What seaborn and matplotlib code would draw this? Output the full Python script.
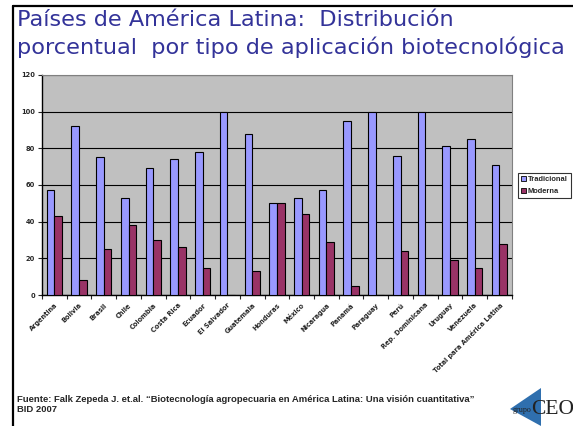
import numpy as np
import pandas as pd
import seaborn as sns
import matplotlib.pyplot as plt
from matplotlib.patches import Polygon
from matplotlib.lines import Line2D

paises = ['Argentina', 'Bolivia', 'Brasil', 'Chile', 'Colombia', 'Costa Rica',
          'Ecuador', 'El Salvador', 'Guatemala', 'Honduras', 'México',
          'Nicaragua', 'Panamá', 'Paraguay', 'Perú', 'Rep. Dominicana',
          'Uruguay', 'Venezuela', 'Total para América Latina']
tradicional = [57, 92, 75, 53, 69, 74, 78, 100, 88, 50, 53, 57, 95, 100, 76, 100, 81, 85, 71]
moderna = [43, 8, 25, 38, 30, 26, 15, 0, 13, 50, 44, 29, 5, 0, 24, 0, 19, 15, 28]
series = ['Tradicional', 'Moderna']
colores = ['#9999FF', '#993366']

df = pd.DataFrame({
    'pais': paises * 2,
    'valor': tradicional + moderna,
    'tipo': [series[0]] * len(paises) + [series[1]] * len(paises),
})

sns.set_style('white')
plt.rcParams['font.family'] = ['DejaVu Sans']

fig = plt.figure(figsize=(5.73, 4.26), dpi=100)
ax = fig.add_axes([0.0733, 0.3075, 0.82, 0.5165])
ax.set_facecolor('#C0C0C0')

sns.barplot(data=df, x='pais', y='valor', hue='tipo', palette=colores,
            width=0.62, gap=0, edgecolor='black', linewidth=0.8,
            saturation=1, ax=ax, legend=False, zorder=3)

ax.set_ylim(0, 120)
ax.set_xlim(-0.5, len(paises) - 0.5)
ax.set_yticks(range(0, 121, 20))
ax.yaxis.grid(True, color='black', linewidth=0.8, zorder=1)
ax.set_axisbelow(True)
ax.set_xlabel('')
ax.set_ylabel('')

for s in ['top', 'right']:
    ax.spines[s].set_color('#808080')
    ax.spines[s].set_linewidth(0.8)
for s in ['left', 'bottom']:
    ax.spines[s].set_color('black')
    ax.spines[s].set_linewidth(1.0)

ax.tick_params(axis='y', labelsize=4.8, length=3, width=0.8, direction='out', left=True, pad=2)
for t in ax.get_yticklabels():
    t.set_fontweight('bold')

ax.set_xticks(range(len(paises)))
ax.set_xticklabels(paises, rotation=45, ha='right', rotation_mode='anchor',
                   fontsize=4.8, fontweight='bold')
ax.tick_params(axis='x', which='major', length=0, pad=5)
ax.set_xticks(np.arange(-0.5, len(paises)), minor=True)
ax.tick_params(axis='x', which='minor', length=3, width=0.8, direction='out', bottom=True)

handles = [plt.Rectangle((0, 0), 1, 1, facecolor=c, edgecolor='black', linewidth=0.6) for c in colores]
leg = fig.legend(handles, series, loc='upper left', bbox_to_anchor=(518 / 573, 1 - 173 / 426),
                 prop={'family': 'Liberation Sans', 'weight': 'bold', 'size': 5.4},
                 frameon=True, fancybox=False, edgecolor='black',
                 handlelength=0.6, handleheight=0.6, handletextpad=0.25,
                 borderpad=0.45, labelspacing=0.6, borderaxespad=0)
leg.get_frame().set_linewidth(0.8)

# title
fig.text(0.03, 0.953, 'Países de América Latina:  Distribución', fontsize=16.1,
         color='#333399', va='center', ha='left')
fig.text(0.03, 0.889, 'porcentual  por tipo de aplicación biotecnológica', fontsize=16.1,
         color='#333399', va='center', ha='left')

# slide frame
fig.add_artist(Line2D([13 / 573, 13 / 573], [0, 1 - 6 / 426], color='black', linewidth=1.6))
fig.add_artist(Line2D([13 / 573, 1], [1 - 6 / 426, 1 - 6 / 426], color='black', linewidth=1.6))

# source
fig.text(0.029, 1 - 400 / 426, 'Fuente: Falk Zepeda J. et.al. “Biotecnología agropecuaria en América Latina: Una visión cuantitativa”',
         fontsize=6.8, fontweight='bold', family='Liberation Sans', va='center', ha='left')
fig.text(0.029, 1 - 410 / 426, 'BID 2007', fontsize=6.8, fontweight='bold',
         family='Liberation Sans', va='center', ha='left')

# logo
tri = Polygon([[510 / 573, 1 - 409 / 426], [541 / 573, 1 - 388 / 426], [541 / 573, 1 - 426 / 426]],
              closed=True, transform=fig.transFigure, facecolor='#2f6fae', edgecolor='none')
fig.add_artist(tri)
fig.text(531 / 573, 1 - 410 / 426, 'grupo', fontsize=5.8, family='Liberation Serif',
         va='center', ha='right', color='#222222')
fig.text(531 / 573, 1 - 409 / 426, 'CEO', fontsize=15.5, family='Liberation Serif',
         va='center', ha='left', color='#222222')

fig.savefig('out.png', dpi=100)
